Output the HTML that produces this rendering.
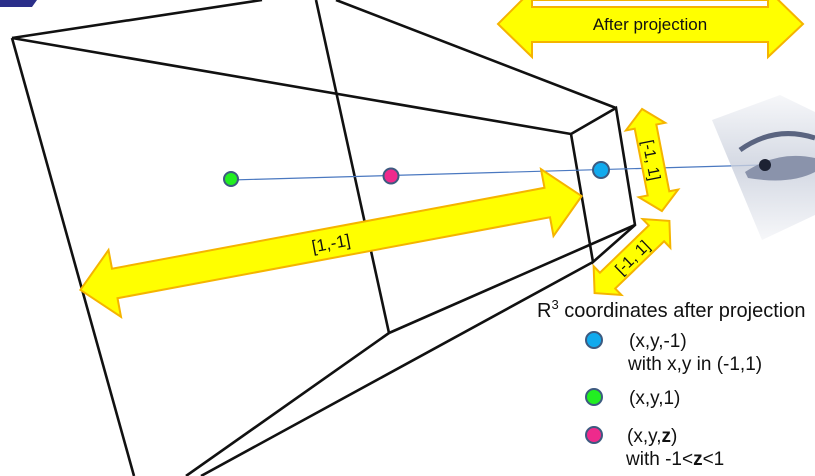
<!DOCTYPE html>
<html><head><meta charset="utf-8"><style>
html,body{margin:0;padding:0;background:#fff;width:815px;height:476px;overflow:hidden}
svg{display:block;font-family:"Liberation Sans",Arial,sans-serif}
</style></head><body>
<svg width="815" height="476" viewBox="0 0 815 476">
<defs>
<linearGradient id="eyeg" x1="0" y1="0" x2="0" y2="1">
<stop offset="0" stop-color="#f4f5f8"/><stop offset="0.5" stop-color="#c9cfdc"/><stop offset="1" stop-color="#f4f5f8"/>
</linearGradient>
</defs>
<polygon points="0,0 37,0 32,7 0,7" fill="#2b2f8a"/>
<g stroke="#111" stroke-width="2.6" fill="none">
<line x1="12" y1="38" x2="262" y2="0"/>
<line x1="12" y1="38" x2="134" y2="476"/>
<line x1="12" y1="38" x2="571" y2="134"/>
<line x1="316" y1="0" x2="389" y2="333"/>
<line x1="336" y1="0" x2="616" y2="108"/>
<line x1="389" y1="333" x2="635" y2="225"/>
<line x1="389" y1="333" x2="186" y2="476"/>
<line x1="593" y1="262" x2="201" y2="476"/>
<polygon points="571,134 616,108 635,225 593,262"/>
</g>
<line x1="231" y1="180" x2="762" y2="165" stroke="#4a78c0" stroke-width="1.2"/>
<g>
<polygon points="712,120 780,95 815,112 815,215 762,240" fill="url(#eyeg)" opacity="0.8"/>
<path d="M740,150 Q775,125 815,138" stroke="#5a6480" stroke-width="5" fill="none"/>
<path d="M745,172 Q778,150 815,158 L815,172 Q790,185 748,178 Z" fill="#8a93ab"/>
<circle cx="765" cy="165" r="6" fill="#1d2233"/>
</g>
<g transform="translate(331,243) rotate(-10.6)">
<polygon points="-255,0 -220,-34 -220,-15 220,-15 220,-34 255,0 220,34 220,15 -220,15 -220,34" fill="#ffff00" stroke="#f5b400" stroke-width="2"/>
<text x="0" y="6" font-size="17" text-anchor="middle" fill="#111">[1,-1]</text>
</g>
<g>
<rect x="532" y="0" width="236" height="7" fill="#fff" stroke="#f5b400" stroke-width="2"/>
<polygon points="498,24 532,-10 532,7 768,7 768,-10 803,24 768,57 768,42 532,42 532,57" fill="#ffff00" stroke="#f5b400" stroke-width="2"/>
<text x="650" y="30" font-size="17" text-anchor="middle" fill="#111">After projection</text>
</g>
<g transform="translate(652,160) rotate(79)">
<polygon points="-52,0 -34,-20 -34,-11 34,-11 34,-20 52,0 34,20 34,11 -34,11 -34,20" fill="#ffff00" stroke="#f5b400" stroke-width="2"/>
<text x="0" y="6" font-size="16" text-anchor="middle" fill="#111">[-1, 1]</text>
</g>
<g transform="translate(632,257) rotate(-44)">
<polygon points="-52,0 -34,-20 -34,-11 34,-11 34,-20 52,0 34,20 34,11 -34,11 -34,20" fill="#ffff00" stroke="#f5b400" stroke-width="2"/>
<text x="0" y="6" font-size="16" text-anchor="middle" fill="#111">[-1, 1]</text>
</g>
<g stroke="#3d5a80" stroke-width="2">
<circle cx="231" cy="179" r="7" fill="#22ee22"/>
<circle cx="391" cy="176" r="7.5" fill="#ee2a8c"/>
<circle cx="601" cy="170" r="8" fill="#11aaee"/>
</g>
<g fill="#111">
<text x="537" y="317" font-size="20">R<tspan font-size="13" dy="-8">3</tspan><tspan dy="8"> coordinates after projection</tspan></text>
<circle cx="594" cy="340" r="8" fill="#11aaee" stroke="#3d5a80" stroke-width="2"/>
<text x="629" y="347" font-size="19">(x,y,-1)</text>
<text x="628" y="370" font-size="19">with x,y in (-1,1)</text>
<circle cx="594" cy="397" r="8" fill="#22ee22" stroke="#3d5a80" stroke-width="2"/>
<text x="629" y="404" font-size="19">(x,y,1)</text>
<circle cx="594" cy="435" r="8" fill="#ee2a8c" stroke="#3d5a80" stroke-width="2"/>
<text x="627" y="442" font-size="19">(x,y,<tspan font-weight="bold">z</tspan>)</text>
<text x="626" y="465" font-size="19">with -1&lt;<tspan font-weight="bold">z</tspan>&lt;1</text>
</g>
</svg>
</body></html>
